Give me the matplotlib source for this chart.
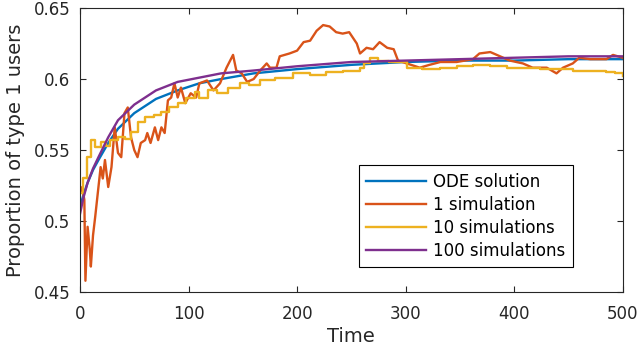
import matplotlib
matplotlib.use('Agg')
import matplotlib.pyplot as plt

# ODE solution
t_ode = [0, 3, 7, 12, 17, 26, 35, 50, 70, 90, 110, 130, 160, 200, 250, 300, 350, 400, 450, 500]
y_ode = [0.510, 0.518, 0.527, 0.536, 0.543, 0.555, 0.565, 0.576, 0.586, 0.592, 0.597, 0.600, 0.604,
         0.607, 0.610, 0.612, 0.613, 0.613, 0.614, 0.614]

# 1 simulation
t_one = [0, 2, 4, 5, 7, 9, 10, 12, 14, 17, 19, 21, 23, 26, 29, 32, 35, 38, 41, 44, 47, 50, 53, 56, 60,
         62, 65, 69, 72, 75, 78, 81, 84, 87, 90, 93, 97, 102, 107, 110, 117, 123, 129, 135, 141, 144,
         149, 154, 160, 166, 172, 175, 181, 184, 193, 200, 206, 212, 218, 224, 230, 236, 242, 248, 255,
         258, 264, 270, 276, 283, 289, 293, 301, 313, 322, 332, 347, 362, 368, 378, 387, 396, 408, 417,
         430, 439, 445, 454, 460, 470, 485, 491, 500]
y_one = [0.520, 0.524, 0.515, 0.458, 0.496, 0.480, 0.468, 0.490, 0.503, 0.524, 0.538, 0.530, 0.543,
         0.524, 0.538, 0.566, 0.548, 0.545, 0.576, 0.580, 0.559, 0.550, 0.545, 0.555, 0.557, 0.562,
         0.555, 0.566, 0.557, 0.566, 0.562, 0.585, 0.587, 0.597, 0.587, 0.594, 0.583, 0.590, 0.587,
         0.597, 0.599, 0.592, 0.597, 0.608, 0.617, 0.606, 0.604, 0.598, 0.600, 0.606, 0.611, 0.608,
         0.608, 0.616, 0.618, 0.620, 0.626, 0.627, 0.634, 0.638, 0.637, 0.633, 0.632, 0.633, 0.625,
         0.618, 0.622, 0.621, 0.626, 0.622, 0.621, 0.613, 0.611, 0.608, 0.610, 0.612, 0.612, 0.614,
         0.618, 0.619, 0.616, 0.613, 0.611, 0.608, 0.608, 0.604, 0.608, 0.611, 0.615, 0.614, 0.614,
         0.617, 0.615]

# 10 simulations
t_ten = [0, 3, 6, 10, 14, 19, 24, 28, 35, 41, 47, 53, 60, 68, 75, 82, 90, 98, 106, 110, 118, 126,
         136, 147, 156, 166, 180, 196, 212, 227, 242, 258, 262, 267, 275, 285, 295, 301, 315, 332,
         347, 362, 378, 393, 408, 424, 440, 454, 470, 485, 493, 500]
y_ten = [0.520, 0.530, 0.545, 0.557, 0.552, 0.556, 0.553, 0.557, 0.559, 0.558, 0.563, 0.570, 0.573,
         0.575, 0.577, 0.580, 0.583, 0.587, 0.591, 0.587, 0.592, 0.590, 0.594, 0.597, 0.596, 0.599,
         0.601, 0.604, 0.603, 0.605, 0.606, 0.608, 0.611, 0.615, 0.613, 0.612, 0.612, 0.608, 0.607,
         0.608, 0.609, 0.610, 0.609, 0.608, 0.608, 0.607, 0.607, 0.606, 0.606, 0.605, 0.604, 0.602]

# 100 simulations
t_hun = [0, 3, 7, 12, 17, 26, 35, 50, 70, 90, 110, 130, 160, 200, 250, 300, 350, 400, 450, 500]
y_hun = [0.505, 0.516, 0.527, 0.537, 0.545, 0.559, 0.571, 0.582, 0.592, 0.598, 0.601, 0.604, 0.606,
         0.609, 0.612, 0.613, 0.614, 0.615, 0.616, 0.616]

labels = ['ODE solution', '1 simulation', '10 simulations', '100 simulations']
colors = ['#0072BD', '#D95319', '#EDB120', '#7E2F8E']

plt.rcParams['font.family'] = 'DejaVu Sans'
fig = plt.figure(figsize=(6.4, 3.49), dpi=100)
ax = fig.add_axes([0.125, 0.163, 0.848, 0.814])

ax.plot(t_ode, y_ode, color=colors[0], lw=1.7, label=labels[0])
ax.plot(t_one, y_one, color=colors[1], lw=1.7, label=labels[1])
ax.plot(t_ten, y_ten, color=colors[2], lw=1.7, drawstyle='steps-post', label=labels[2])
ax.plot(t_hun, y_hun, color=colors[3], lw=1.7, label=labels[3])

ax.set_xlim(0, 500)
ax.set_ylim(0.45, 0.65)
ax.set_xticks([0, 100, 200, 300, 400, 500])
ax.set_yticks([0.45, 0.5, 0.55, 0.6, 0.65])
ax.set_yticklabels(['0.45', '0.5', '0.55', '0.6', '0.65'])
ax.tick_params(direction='in', top=True, right=True, labelsize=12, length=4,
               color='#262626', labelcolor='#262626')
ax.tick_params(axis='y', pad=7)
ax.tick_params(axis='x', pad=9)
for s in ax.spines.values():
    s.set_color('#262626')
ax.set_xlabel('Time', fontsize=14, color='#262626', labelpad=3)
ax.set_ylabel('Proportion of type 1 users', fontsize=14, color='#262626', labelpad=6)

leg = ax.legend(loc='lower right', bbox_to_anchor=(0.908, 0.088), fontsize=12, handlelength=3.6,
                fancybox=False, edgecolor='black', framealpha=1, borderpad=0.45, labelspacing=0.3,
                handletextpad=0.4, borderaxespad=0)
leg.get_frame().set_linewidth(0.8)

fig.savefig('out.png', dpi=100)
